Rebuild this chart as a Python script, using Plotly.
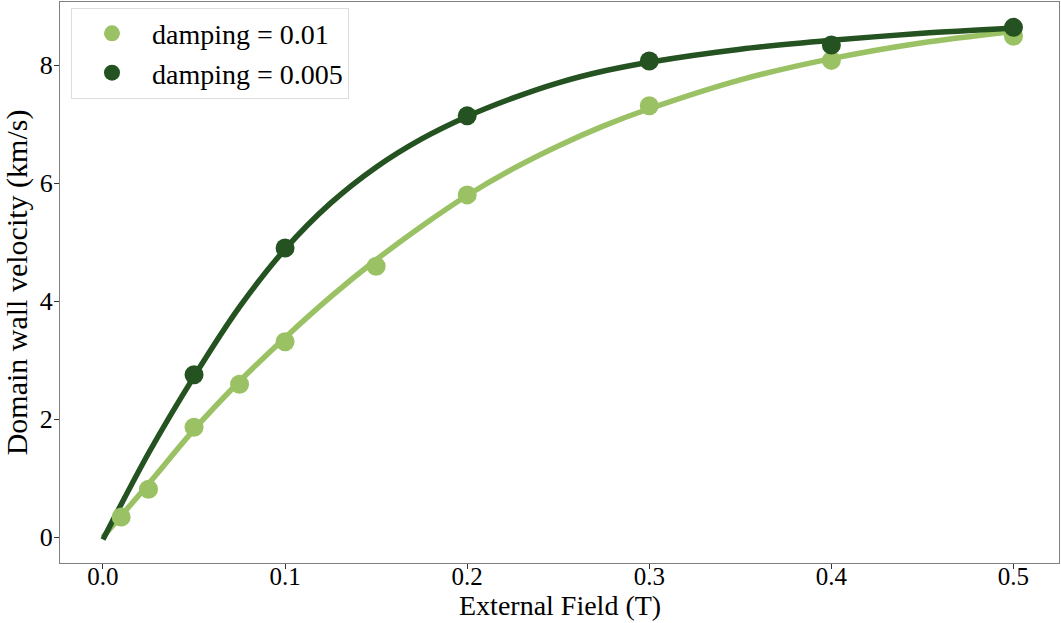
import plotly.graph_objects as go

# measured points
field_a = [0.01, 0.025, 0.05, 0.075, 0.1, 0.15, 0.2, 0.3, 0.4, 0.5]
vel_a = [0.34, 0.81, 1.86, 2.59, 3.31, 4.59, 5.80, 7.31, 8.08, 8.49]
field_b = [0.05, 0.1, 0.2, 0.3, 0.4, 0.5]
vel_b = [2.75, 4.90, 7.14, 8.07, 8.34, 8.64]

# fitted curves
fit_x = [0.0, 0.025, 0.05, 0.075, 0.1, 0.125, 0.15, 0.175, 0.2, 0.225, 0.25, 0.275, 0.3, 0.35, 0.4, 0.45, 0.5]
fit_a = [0.0, 0.90, 1.82, 2.64, 3.38, 4.07, 4.70, 5.27, 5.79, 6.24, 6.63, 6.97, 7.26, 7.75, 8.11, 8.38, 8.57]
fit_b = [-0.04, 1.42, 2.72, 3.90, 4.88, 5.66, 6.27, 6.75, 7.13, 7.44, 7.70, 7.90, 8.05, 8.27, 8.42, 8.54, 8.63]

labels = ["damping = 0.01", "damping = 0.005"]
xtick_vals = [0, 0.1, 0.2, 0.3, 0.4, 0.5]
xtick_text = ["0.0", "0.1", "0.2", "0.3", "0.4", "0.5"]
ytick_vals = [0, 2, 4, 6, 8]
light = "#9AC264"
dark = "#245220"

fig = go.Figure()
fig.add_trace(go.Scatter(x=fit_x, y=fit_a, mode="lines", line=dict(color=light, width=5.5, shape="spline", smoothing=0.8), showlegend=False, hoverinfo="skip"))
fig.add_trace(go.Scatter(x=fit_x, y=fit_b, mode="lines", line=dict(color=dark, width=5.5, shape="spline", smoothing=0.8), showlegend=False, hoverinfo="skip"))
fig.add_trace(go.Scatter(x=field_a, y=vel_a, mode="markers", marker=dict(color=light, size=19), name=labels[0]))
fig.add_trace(go.Scatter(x=field_b, y=vel_b, mode="markers", marker=dict(color=dark, size=19), name=labels[1]))

axis_common = dict(showgrid=False, zeroline=False, showline=True, mirror=True,
                   linecolor="#808080", linewidth=1.2, ticks="outside", ticklen=5,
                   tickcolor="#333333", color="black",
                   automargin=False)

fig.update_layout(
    width=1061, height=623,
    margin=dict(l=60, r=2, t=2, b=60),
    paper_bgcolor="white", plot_bgcolor="white",
    font=dict(family="Liberation Serif", color="black"),
    xaxis=dict(range=[-0.0236, 0.525], tickvals=xtick_vals, ticktext=xtick_text,
               tickfont=dict(size=25), ticklabelstandoff=-14, **axis_common),
    yaxis=dict(range=[-0.44, 9.07], tickvals=ytick_vals, ticklabelstandoff=-4,
               tickfont=dict(size=26),
               title=dict(text="Domain wall velocity (km/s)", font=dict(size=30), standoff=4), **axis_common),
    legend=dict(x=0.011, y=0.99, xanchor="left", yanchor="top",
                bordercolor="#dddddd", borderwidth=1, bgcolor="rgba(255,255,255,0.8)",
                font=dict(size=28), itemwidth=70, tracegroupgap=0),
    annotations=[dict(text="External Field (T)", xref="paper", yref="paper",
                      x=0.5, y=-0.1052, xanchor="center", yanchor="bottom",
                      showarrow=False, borderpad=0, font=dict(size=28))],
)

fig.write_html("out.html")
